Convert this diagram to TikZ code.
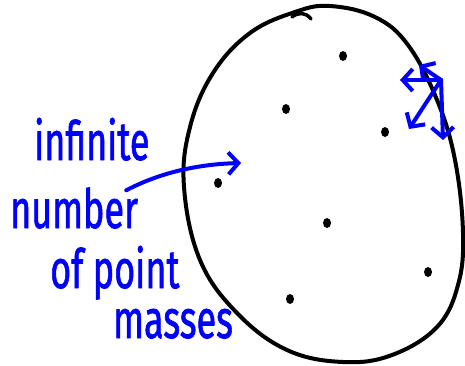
\documentclass[tikz,border=0pt]{standalone}
\usepackage{fontspec}
\newfontfamily\handfont[FakeBold=1.5]{Fira Sans}
\usetikzlibrary{arrows.meta}
\tikzset{hand/.style={blue, line width=4pt, line cap=round, line join=round},
 handtip/.style={-{Straight Barb[length=10pt,width=22pt]}},
 dot/.style={ellipse, fill=black, inner sep=0pt, minimum width=8pt, minimum height=10pt},
 words/.style={blue, anchor=base west, inner sep=0pt, font=\handfont\fontsize{36}{40}\selectfont}}
\newcommand\tall[1]{\scalebox{1}[1.5]{#1}}
\usetikzlibrary{shapes.geometric}
\begin{document}
\begin{tikzpicture}[x=1pt, y=-1pt]
\useasboundingbox (0,0) rectangle (465,365);
\draw[line width=4pt, line cap=round] plot[smooth cycle, tension=0.65] coordinates
 {(330,6) (375,17) (408,45) (437,100) (455,160) (463,233) (458,285) (437,327) (392,355) (343,362)
  (287,350) (237,313) (200,260) (184,187) (190,127) (213,73) (250,33) (295,12)};
\draw[line width=3.5pt, line cap=round] (292,17) .. controls (298,12) and (306,12) .. (311,19);
\foreach \n / \x / \y in {a/343/56, b/286/109, c/385/132, d/218/183, e/327/223, f/428/272, g/290/299}
 \node[dot] (\n) at (\x,\y) {};
\node[words] (infinite) at (34,160) {\tall{infinite}};
\node[words] (number) at (10,228) {\tall{number}};
\node[words] (ofpoint) at (50,288) {\tall{of point}};
\node[words] (masses) at (113,338) {\tall{masses}};
\coordinate (tip) at (241,163);
\draw[hand, handtip] ([xshift=-12pt, yshift=-3pt]number.north east) .. controls (165,170) and (205,164) .. (tip);
\coordinate (edge) at (441,80);
\foreach \t in {(400,80), (419,65), (409,129), (443,140)}
 \draw[hand, handtip] (edge) -- \t;
\end{tikzpicture}
\end{document}
